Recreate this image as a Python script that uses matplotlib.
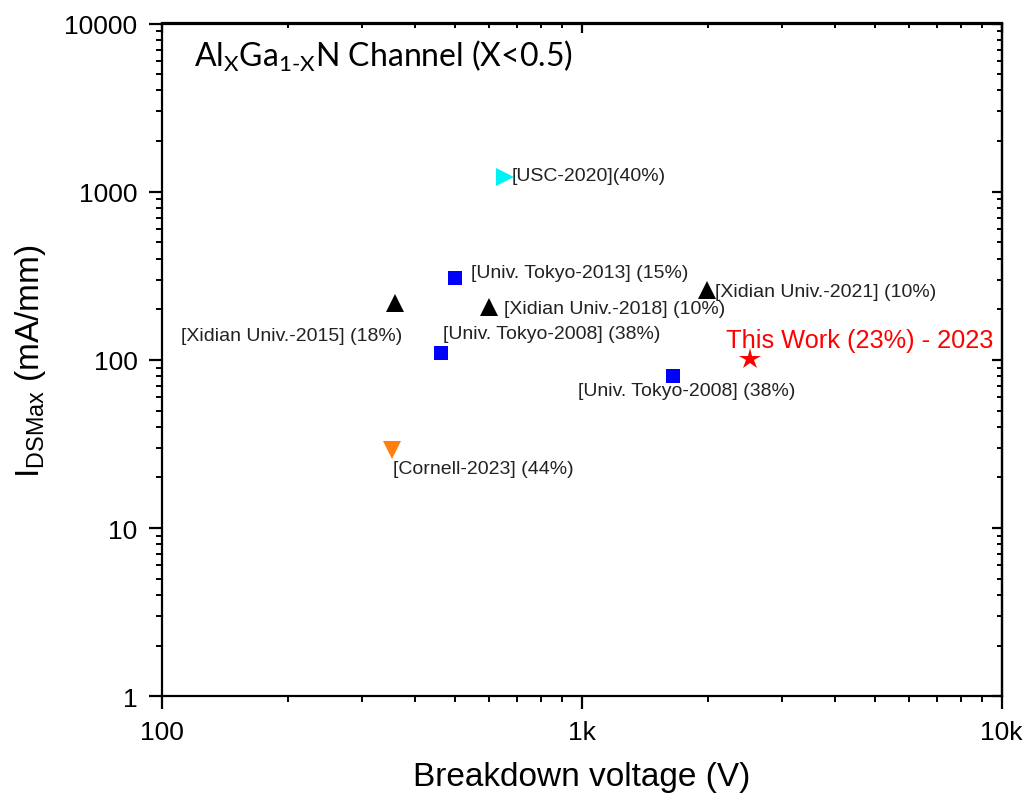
import matplotlib
matplotlib.use("Agg")
import matplotlib.pyplot as plt
from matplotlib.ticker import NullFormatter

plt.rcParams['font.family'] = ['Liberation Sans', 'DejaVu Sans']
plt.rcParams['mathtext.fontset'] = 'custom'
plt.rcParams['mathtext.rm'] = 'Lato'

# ---------------- data ----------------
labels = ["[USC-2020](40%)", "[Univ. Tokyo-2013] (15%)", "[Xidian Univ.-2015] (18%)",
          "[Xidian Univ.-2018] (10%)", "[Xidian Univ.-2021] (10%)", "[Univ. Tokyo-2008] (38%)",
          "[Univ. Tokyo-2008] (38%)", "This Work (23%) - 2023", "[Cornell-2023] (44%)"]
breakdown_v = [656, 499, 359, 600, 1983, 463, 1649, 2518, 354]
ids_max = [1230, 305, 219, 206, 259, 110, 80, 101, 29]

xticks = [100, 1000, 10000]
xticklabels = ["100", "1k", "10k"]
yticks = [1, 10, 100, 1000, 10000]
yticklabels = ["1", "10", "100", "1000", "10000"]

# ---------------- styles ----------------
markers = [">", "s", "^", "^", "^", "s", "s", "*", "v"]
colors = ["#00F2F2", "#0000FF", "#000000", "#000000", "#000000", "#0000FF", "#0000FF", "#FF0000", "#FF800E"]
msizes = [13, 10.5, 13, 13, 13, 10.5, 10.5, 16, 13]
# label offsets in pixels (dx, dy) and alignment
offsets = [(7, 1), (16, 5.5), (7, -33), (15, -1.7), (8.5, -1), (2, 19.4), (-94.7, -14), (-24.6, 19.3), (1, -18.3)]
has = ["left", "left", "right", "left", "left", "left", "left", "left", "left"]
tcolors = ["#222222"] * 7 + ["#FF0000", "#222222"]
tsizes = [14] * 7 + [18.3, 14]

fig = plt.figure(figsize=(10.28, 8.03), dpi=100)
L, R, T, B = 161.7, 1001.7, 24.5, 697.3
ax = fig.add_axes([L / 1028, 1 - B / 803, (R - L) / 1028, (B - T) / 803])
ax.set_xscale('log')
ax.set_yscale('log')
ax.set_xlim(100, 10000)
ax.set_ylim(1, 10000)

for i in range(len(labels)):
    ax.plot(breakdown_v[i], ids_max[i], linestyle='none', marker=markers[i],
            color=colors[i], markersize=msizes[i], markeredgewidth=0, zorder=3)
    ax.annotate(labels[i], (breakdown_v[i], ids_max[i]), xytext=offsets[i],
                textcoords='offset pixels', ha=has[i], va='center',
                fontsize=tsizes[i], color=tcolors[i], zorder=4)

ax.set_xticks(xticks, labels=xticklabels)
ax.set_yticks(yticks, labels=yticklabels)
ax.xaxis.set_minor_formatter(NullFormatter())
ax.yaxis.set_minor_formatter(NullFormatter())

for s in ax.spines.values():
    s.set_linewidth(1.6)
ax.tick_params(which='major', direction='out', length=9.4, width=1.6, labelsize=19, pad=8)
ax.tick_params(which='minor', direction='out', length=4.3, width=1.4)

secx = ax.secondary_xaxis('top')
secy = ax.secondary_yaxis('right')
for sec, axis in ((secx, secx.xaxis), (secy, secy.yaxis)):
    sec.tick_params(which='major', direction='in', length=7, width=1.6)
    sec.tick_params(which='minor', direction='in', length=3.5, width=1.4)
    axis.set_major_formatter(NullFormatter())
    axis.set_minor_formatter(NullFormatter())
    for s in sec.spines.values():
        s.set_linewidth(1.6)

ax.set_xlabel("Breakdown voltage (V)", fontsize=24, labelpad=12)
ax.set_ylabel(r"I$_\mathregular{DSMax}$ (mA/mm)", fontsize=24, labelpad=12)

ax.text(194 / 1028, 1 - 67 / 803, r"Al$_\mathrm{X}$Ga$_\mathrm{1\text{-}X}$N Channel (X<0.5)",
        transform=fig.transFigure, fontsize=23, family='Lato', va='baseline', ha='left')

fig.savefig("out.png", dpi=100)
